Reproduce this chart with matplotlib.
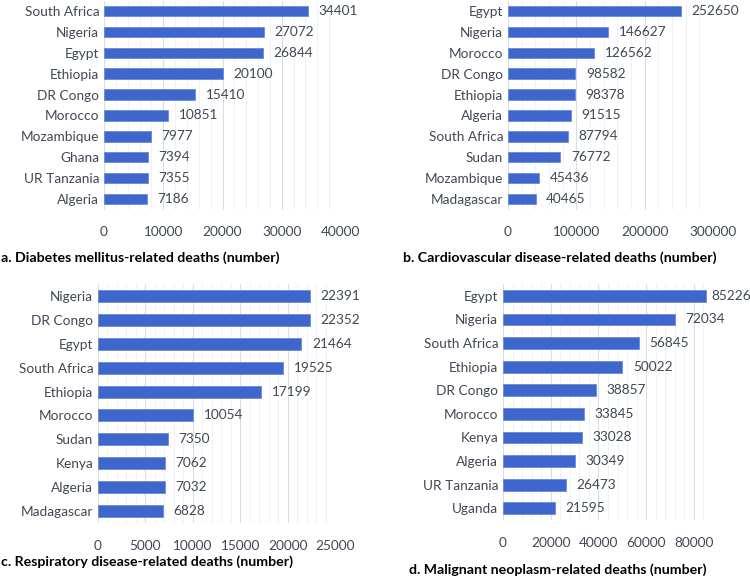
import matplotlib
matplotlib.use("Agg")
import matplotlib.pyplot as plt
from matplotlib.ticker import MultipleLocator

plt.rcParams['font.family'] = ['Lato', 'DejaVu Sans']

# data, top to bottom as shown
diab_countries = ['South Africa', 'Nigeria', 'Egypt', 'Ethiopia', 'DR Congo',
                  'Morocco', 'Mozambique', 'Ghana', 'UR Tanzania', 'Algeria']
diab_values = [34401, 27072, 26844, 20100, 15410, 10851, 7977, 7394, 7355, 7186]

cardio_countries = ['Egypt', 'Nigeria', 'Morocco', 'DR Congo', 'Ethiopia',
                    'Algeria', 'South Africa', 'Sudan', 'Mozambique', 'Madagascar']
cardio_values = [252650, 146627, 126562, 98582, 98378, 91515, 87794, 76772, 45436, 40465]

resp_countries = ['Nigeria', 'DR Congo', 'Egypt', 'South Africa', 'Ethiopia',
                  'Morocco', 'Sudan', 'Kenya', 'Algeria', 'Madagascar']
resp_values = [22391, 22352, 21464, 19525, 17199, 10054, 7350, 7062, 7032, 6828]

neo_countries = ['Egypt', 'Nigeria', 'South Africa', 'Ethiopia', 'DR Congo',
                 'Morocco', 'Kenya', 'Algeria', 'UR Tanzania', 'Uganda']
neo_values = [85226, 72034, 56845, 50022, 38857, 33845, 33028, 30349, 26473, 21595]

titles = ['a. Diabetes mellitus-related deaths (number)',
          'b. Cardiovascular disease-related deaths (number)',
          'c. Respiratory disease-related deaths (number)',
          'd. Malignant neoplasm-related deaths (number)']

W, H = 750, 578
txt = '#404855'
bar_col = '#3E66CC'
fs = 9.8

fig = plt.figure(figsize=(W / 100, H / 100), dpi=100)


def px_axes(x0, x1, y0, y1):
    return fig.add_axes([x0 / W, 1 - y1 / H, (x1 - x0) / W, (y1 - y0) / H])


def panel(ax, countries, values, xmax, major):
    y = list(range(len(countries)))
    ax.barh(y, values, height=0.5, color=bar_col, edgecolor='#6A8BDB', linewidth=0.6, zorder=3)
    ax.set_yticks(y)
    ax.set_yticklabels(countries, fontsize=fs, color=txt)
    ax.set_ylim(len(countries) - 0.5, -0.5)
    ax.set_xlim(0, xmax)
    ax.xaxis.set_major_locator(MultipleLocator(major))
    ax.xaxis.set_minor_locator(MultipleLocator(major / 5))
    ax.grid(axis='x', which='major', color='#D9DDE5', linewidth=0.8, zorder=0)
    ax.grid(axis='x', which='minor', color='#EEF0F4', linewidth=0.6, zorder=0)
    ax.tick_params(axis='both', which='both', length=0, colors=txt, labelsize=fs)
    ax.tick_params(axis='x', pad=12)
    for s in ax.spines.values():
        s.set_visible(False)
    for yi, v in zip(y, values):
        # labels near the right edge sit closer to the bar
        off = 3.5 if v > 0.95 * xmax else 7.5
        ax.annotate(str(v), (v, yi), xytext=(off, 0), textcoords='offset points',
                    va='center', ha='left', fontsize=fs, color=txt, zorder=4)


ax_a = px_axes(104, 341, 0.5, 209.5)
panel(ax_a, diab_countries, diab_values, 40000, 10000)
ax_b = px_axes(508, 713, 0.5, 209.5)
panel(ax_b, cardio_countries, cardio_values, 300000, 100000)
ax_c = px_axes(98, 335, 284, 523)
panel(ax_c, resp_countries, resp_values, 25000, 5000)
ax_d = px_axes(503, 713, 284, 520)
panel(ax_d, neo_countries, neo_values, 88000, 20000)

tkw = dict(va='center', fontsize=10.2, fontweight='bold', color='black')
fig.text(1 / W, 1 - 258 / H, titles[0], ha='left', **tkw)
fig.text(560 / W, 1 - 258 / H, titles[1], ha='center', **tkw)
fig.text(1 / W, 1 - 562 / H, titles[2], ha='left', **tkw)
fig.text(558 / W, 1 - 570 / H, titles[3], ha='center', **tkw)

fig.savefig('out.png', dpi=100)
